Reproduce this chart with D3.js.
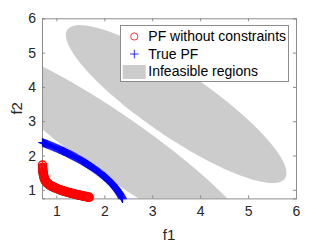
<!DOCTYPE html>
<html><head><meta charset="utf-8">
<script src="https://cdn.jsdelivr.net/npm/d3@7"></script>
<style>body{margin:0;background:#fff}svg{display:block;font-family:"Liberation Sans",Arial,sans-serif}</style>
</head><body><svg id="c" width="327" height="245"></svg>
<script>
// ---- data ----
const xTicks = [1, 2, 3, 4, 5, 6];
const yTicks = [1, 2, 3, 4, 5, 6];
const xLabel = "f1";
const yLabel = "f2";
const legendLabels = ["PF without constraints", "True PF", "Infeasible regions"];

// infeasible regions: rotated ellipses in (f1,f2) space
const ellipseCx = [3.5, 2.25];
const ellipseCy = [3.5, 2.25];
const ellipseA = [3.15, 4.0];
const ellipseB = [0.82, 0.78];
const ellipseAngleDeg = [-45, -45];

// PF without constraints (red circles)
const redF1 = [0.710,0.712,0.713,0.715,0.717,0.719,0.722,0.725,0.729,0.733,0.738,0.743,0.749,0.755,
  0.762,0.770,0.778,0.787,0.797,0.808,0.820,0.833,0.847,0.862,0.878,0.895,0.913,0.932,0.951,0.971,0.991,
  1.011,1.031,1.051,1.071,1.091,1.111,1.131,1.151,1.171,1.191,1.211,1.231,1.251,1.271,1.291,1.311,1.331,1.351,
  1.371,1.391,1.411,1.431,1.451,1.471,1.491,1.511,1.531,1.551,1.571,1.591,1.611,1.631,1.651,1.671,1.685];
const redF2 = [1.720,1.655,1.630,1.600,1.570,1.540,1.510,1.480,1.450,1.420,1.390,1.360,1.330,1.305,
  1.285,1.265,1.247,1.230,1.213,1.197,1.181,1.166,1.151,1.137,1.123,1.109,1.096,1.083,1.070,1.058,1.046,
  1.035,1.024,1.013,1.003,0.993,0.983,0.974,0.965,0.956,0.947,0.939,0.931,0.923,0.915,0.907,0.900,0.893,0.886,
  0.879,0.872,0.865,0.859,0.852,0.846,0.840,0.834,0.828,0.822,0.816,0.810,0.804,0.798,0.792,0.786,0.780];

// True PF (blue pluses)
const blueF1 = [0.71,0.73,0.75,0.77,0.79,0.81,0.83,0.85,0.87,0.89,0.91,0.93,0.95,0.97,0.99,
  1.01,1.03,1.05,1.07,1.09,1.11,1.13,1.15,1.17,1.19,1.21,1.23,1.25,1.27,1.29,1.31,1.33,1.35,1.37,1.39,
  1.41,1.43,1.45,1.47,1.49,1.51,1.53,1.55,1.57,1.59,1.61,1.63,1.65,1.67,1.69,1.71,1.73,1.75,1.77,1.79,
  1.81,1.83,1.85,1.87,1.89,1.91,1.93,1.95,1.97,1.99,
  2.00,2.01,2.02,2.03,2.04,2.05,2.06,2.07,2.08,2.09,2.10,2.11,2.12,2.13,2.14,2.15,2.16,2.17,2.18,2.19,
  2.20,2.21,2.22,2.23,2.24,2.25,2.26,2.27,2.28,2.29,2.30,2.31,2.32,2.33,2.34,2.35,2.36,2.37,2.38];
const blueF2 = [2.380,2.370,2.359,2.348,2.337,2.326,2.315,2.304,2.292,2.281,2.269,2.258,2.246,2.234,2.222,
  2.210,2.197,2.185,2.172,2.160,2.147,2.134,2.121,2.108,2.094,2.081,2.067,2.053,2.039,2.025,2.011,1.996,1.982,1.967,1.953,
  1.938,1.923,1.907,1.892,1.876,1.860,1.844,1.828,1.811,1.794,1.777,1.760,1.742,1.724,1.706,1.687,1.669,1.650,1.631,1.611,
  1.592,1.572,1.552,1.531,1.510,1.488,1.466,1.444,1.421,1.398,
  1.386,1.374,1.362,1.350,1.337,1.325,1.312,1.299,1.286,1.273,1.259,1.246,1.232,1.218,1.203,1.188,1.173,1.158,1.143,1.128,
  1.113,1.096,1.079,1.062,1.044,1.026,1.008,0.989,0.970,0.950,0.930,0.909,0.887,0.865,0.842,0.818,0.793,0.767,0.740];

// ---- layout ----
const svg = d3.select("#c");
const L = 42, R = 296, T = 18.3, B = 198.4;
const x = d3.scaleLinear().domain([0.7, 6]).range([L, R]);
const y = d3.scaleLinear().domain([0.75, 6]).range([B, T]);
const axisCol = "#8c8c8c", textCol = "#262626";

svg.append("defs").append("clipPath").attr("id", "clip")
  .append("rect").attr("x", L).attr("y", T).attr("width", R - L).attr("height", B - T);

// ellipses
const ellG = svg.append("g").attr("clip-path", "url(#clip)");
const ts = d3.range(0, 361, 2).map(d => d * Math.PI / 180);
ellipseCx.forEach((cx, i) => {
  const th = ellipseAngleDeg[i] * Math.PI / 180;
  const pts = ts.map(t => {
    const u = ellipseA[i] * Math.cos(t), v = ellipseB[i] * Math.sin(t);
    return [x(cx + u * Math.cos(th) - v * Math.sin(th)), y(ellipseCy[i] + u * Math.sin(th) + v * Math.cos(th))];
  });
  ellG.append("path").attr("d", d3.line()(pts) + "Z").attr("fill", "#cccccc").attr("stroke", "none");
});

// axes
const gx = svg.append("g").attr("transform", `translate(0,${B})`)
  .call(d3.axisBottom(x).tickValues(xTicks).tickSize(-3).tickPadding(8).tickFormat(d3.format("d")));
const gxt = svg.append("g").attr("transform", `translate(0,${T})`)
  .call(d3.axisTop(x).tickValues(xTicks).tickSize(-3).tickFormat(""));
const gy = svg.append("g").attr("transform", `translate(${L},0)`)
  .call(d3.axisLeft(y).tickValues(yTicks).tickSize(-3).tickPadding(6).tickFormat(d3.format("d")));
const gyr = svg.append("g").attr("transform", `translate(${R},0)`)
  .call(d3.axisRight(y).tickValues(yTicks).tickSize(-3).tickFormat(""));
[gx, gxt, gy, gyr].forEach(g => {
  g.selectAll(".domain").attr("stroke", axisCol).attr("stroke-width", 1);
  g.selectAll(".tick line").attr("stroke", axisCol);
  g.selectAll("text").attr("fill", textCol).attr("font-size", 14).attr("font-family", "Liberation Sans, Arial, sans-serif");
});

svg.append("text").attr("x", (L + R) / 2).attr("y", 240).attr("text-anchor", "middle")
  .attr("font-size", 15).attr("fill", textCol).text(xLabel);
svg.append("text").attr("transform", `translate(22,${(T + B) / 2}) rotate(-90)`).attr("text-anchor", "middle")
  .attr("font-size", 15).attr("fill", textCol).text(yLabel);

// red circles
svg.append("g").selectAll("circle").data(redF1).join("circle")
  .attr("cx", (d, i) => x(d)).attr("cy", (d, i) => y(redF2[i])).attr("r", 4.1)
  .attr("fill", "none").attr("stroke", "#ff0000").attr("stroke-width", 1.3);

// blue pluses
const s = 4.3;
svg.append("g").selectAll("path").data(blueF1).join("path")
  .attr("d", (d, i) => {
    const px = x(d), py = y(blueF2[i]);
    return `M${px - s},${py}H${px + s}M${px},${py - s}V${py + s}`;
  })
  .attr("stroke", "#0000ff").attr("stroke-width", 1.2).attr("fill", "none");

// legend
const lg = svg.append("g");
lg.append("rect").attr("x", 120.5).attr("y", 25.5).attr("width", 168).attr("height", 56)
  .attr("fill", "#fff").attr("stroke", axisCol).attr("stroke-width", 1);
const rowY = [36.5, 54, 71.5];
lg.append("circle").attr("cx", 134.3).attr("cy", rowY[0]).attr("r", 3.6)
  .attr("fill", "none").attr("stroke", "#ff0000").attr("stroke-width", 0.8);
lg.append("path").attr("d", `M${134.3 - s},${rowY[1]}H${134.3 + s}M134.3,${rowY[1] - s}V${rowY[1] + s}`)
  .attr("stroke", "#0000ff").attr("stroke-width", 0.8);
lg.append("rect").attr("x", 122.7).attr("y", 65).attr("width", 23).attr("height", 14).attr("fill", "#cccccc");
legendLabels.forEach((t, i) => {
  lg.append("text").attr("x", 148.3).attr("y", rowY[i]).attr("dy", "0.35em")
    .attr("font-size", 14).attr("fill", "#000").text(t);
});
</script></body></html>
